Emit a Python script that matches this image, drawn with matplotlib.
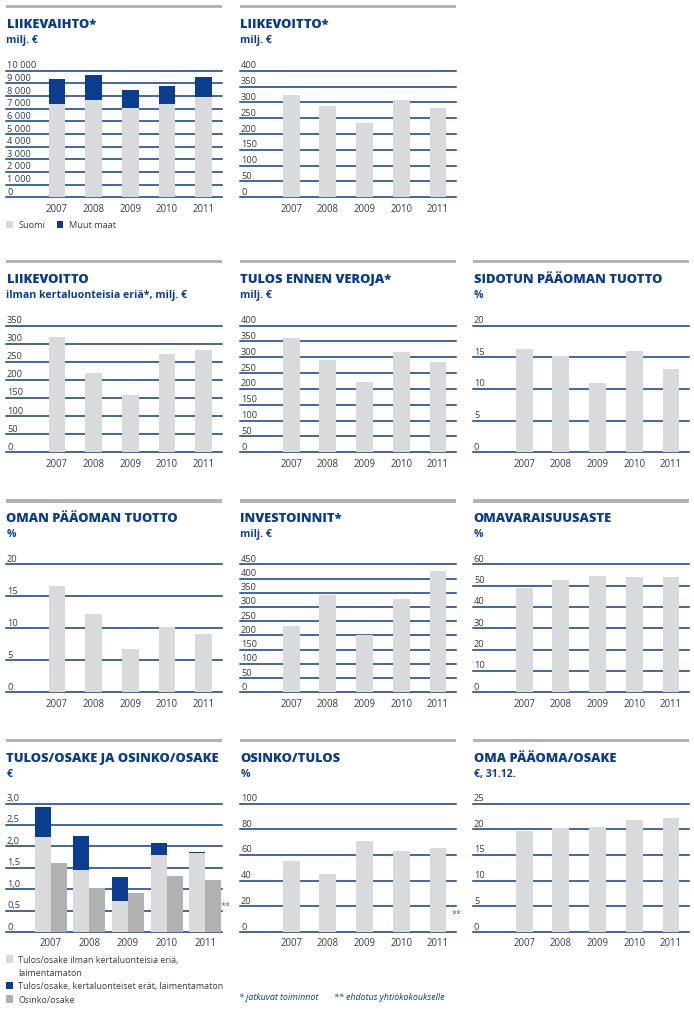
import matplotlib
matplotlib.use('Agg')
import matplotlib.pyplot as plt
from matplotlib.patches import Rectangle

# ---------------- data ----------------
years = ['2007', '2008', '2009', '2010', '2011']

liikevaihto_suomi = [7370, 7680, 7080, 7370, 7920]
liikevaihto_muut = [1970, 1980, 1390, 1420, 1580]
liikevaihto_ticks = [0, 1000, 2000, 3000, 4000, 5000, 6000, 7000, 8000, 9000, 10000]
liikevaihto_labels = ['0', '1 000', '2 000', '3 000', '4 000', '5 000', '6 000', '7 000', '8 000', '9 000', '10 000']

liikevoitto = [323, 288, 235, 307, 282]
liikevoitto_ticks = [0, 50, 100, 150, 200, 250, 300, 350, 400]

liikevoitto_ilman = [319, 219, 158, 272, 283]
liikevoitto_ilman_ticks = [0, 50, 100, 150, 200, 250, 300, 350]

tulos_ennen_veroja = [361, 292, 222, 317, 285]
tulos_ticks = [0, 50, 100, 150, 200, 250, 300, 350, 400]

sidotun_tuotto = [16.3, 15.2, 11.0, 16.0, 13.2]
sidotun_ticks = [0, 5, 10, 15, 20]

oman_tuotto = [16.6, 12.2, 6.8, 10.2, 9.1]
oman_ticks = [0, 5, 10, 15, 20]

investoinnit = [233, 342, 202, 328, 427]
investoinnit_ticks = [0, 50, 100, 150, 200, 250, 300, 350, 400, 450]

omavaraisuusaste = [48.9, 52.7, 54.5, 54.1, 54.1]
omavaraisuus_ticks = [0, 10, 20, 30, 40, 50, 60]

eps_ilman = [2.22, 1.45, 0.73, 1.80, 1.85]
eps_kertaluonteiset = [0.70, 0.80, 0.56, 0.28, 0.02]
osinko_osake = [1.62, 1.03, 0.92, 1.31, 1.22]
eps_ticks = [0, 0.5, 1.0, 1.5, 2.0, 2.5, 3.0]
eps_labels = ['0', '0,5', '1,0', '1,5', '2,0', '2,5', '3,0']

osinko_tulos = [55.0, 45.0, 70.6, 62.9, 65.2]
osinko_tulos_ticks = [0, 20, 40, 60, 80, 100]

oma_paaoma_osake = [19.6, 20.2, 20.4, 21.75, 22.1]
oma_paaoma_ticks = [0, 5, 10, 15, 20, 25]

legend1_labels = ['Suomi', 'Muut maat']
legend9_labels = ['Tulos/osake ilman kertaluonteisia eriä,\nlaimentamaton',
                  'Tulos/osake, kertaluonteiset erät, laimentamaton',
                  'Osinko/osake']
footnotes = ['* jatkuvat toiminnot', '** ehdotus yhtiökokoukselle']

# ---------------- style ----------------
W, H = 694, 1015
DPI = 100
NAVY = '#0b3d8e'
LIGHT = '#d9dadb'
MID = '#b1b1b1'
TOPBAR = '#b3b3b3'
TXT = '#3c3c3c'
FONT = 'Open Sans'
plt.rcParams['font.family'] = [FONT, 'DejaVu Sans']

fig = plt.figure(figsize=(W / DPI, H / DPI), dpi=DPI)
fig.patch.set_facecolor('white')


def fx(x):
    return x / W


def fy(y):
    return 1 - y / H


COLS = [(6, 221.5), (240, 456), (473, 689)]
ROWS = [dict(bar=6.7, title=28.3, sub=42.5, top=70.7, base=197.3),
        dict(bar=261.7, title=283.3, sub=297.7, top=325.5, base=452.3),
        dict(bar=501.0, title=521.7, sub=536.7, top=564.3, base=692.3),
        dict(bar=740.7, title=761.7, sub=776.7, top=803.5, base=932.0)]

X = list(range(5))
BW = 0.456


def panel(col, row, title, subtitle, ticks, labels=None, xlim=(-1.393, 4.49)):
    x0, x1 = COLS[col]
    r = ROWS[row]
    fig.add_artist(Rectangle((fx(x0), fy(r['bar'] + 1.7)), (x1 - x0) / W, 3.4 / H,
                             transform=fig.transFigure, facecolor=TOPBAR, lw=0))
    fig.text(fx(x0 + 0.5), fy(r['title']), title, fontsize=9.3, fontweight=800,
             color=NAVY, ha='left', va='baseline')
    fig.text(fx(x0 + 0.5), fy(r['sub']), subtitle, fontsize=7.6, fontweight='bold',
             color=NAVY, ha='left', va='baseline')
    ax = fig.add_axes([fx(x0), fy(r['base']), (x1 - x0) / W, (r['base'] - r['top']) / H])
    ax.patch.set_alpha(0)
    for s in ax.spines.values():
        s.set_visible(False)
    ax.set_xlim(*xlim)
    ax.set_ylim(0, ticks[-1])
    ax.set_yticks([])
    if labels is None:
        labels = [str(t) for t in ticks]
    for t, lab in zip(ticks, labels):
        ax.axhline(t, color=NAVY, lw=1.1, clip_on=False, zorder=1)
        ax.annotate(lab, xy=(0, t), xycoords=('axes fraction', 'data'), xytext=(1, 2.5),
                    textcoords='offset pixels', ha='left', va='baseline',
                    fontsize=6.7, color=TXT)
    ax.set_xticks(X)
    ax.set_xticklabels(years, fontsize=6.9, color=TXT)
    ax.tick_params(axis='x', length=0, pad=4.5)
    return ax


def simple(col, row, title, subtitle, values, ticks, labels=None):
    ax = panel(col, row, title, subtitle, ticks, labels)
    ax.bar(X, values, width=BW, color=LIGHT, zorder=2)
    return ax


# Row 1
ax1 = panel(0, 0, 'LIIKEVAIHTO*', 'milj. €', liikevaihto_ticks, liikevaihto_labels)
ax1.bar(X, liikevaihto_suomi, width=BW, color=LIGHT, zorder=2)
ax1.bar(X, liikevaihto_muut, width=BW, bottom=liikevaihto_suomi, color=NAVY, zorder=2)
# legend for panel 1
for (sx, tx), lab, c in zip([(6, 18.5), (56.7, 69)], legend1_labels, [LIGHT, NAVY]):
    fig.add_artist(Rectangle((fx(sx), fy(228.3)), 6.7 / W, 7 / H,
                             transform=fig.transFigure, facecolor=c, lw=0))
    fig.text(fx(tx), fy(227.8), lab, fontsize=6.6, color=TXT, ha='left', va='baseline')

simple(1, 0, 'LIIKEVOITTO*', 'milj. €', liikevoitto, liikevoitto_ticks)

# Row 2
simple(0, 1, 'LIIKEVOITTO', 'ilman kertaluonteisia eriä*, milj. €', liikevoitto_ilman,
       liikevoitto_ilman_ticks)
simple(1, 1, 'TULOS ENNEN VEROJA*', 'milj. €', tulos_ennen_veroja, tulos_ticks)
simple(2, 1, 'SIDOTUN PÄÄOMAN TUOTTO', '%', sidotun_tuotto, sidotun_ticks)

# Row 3
simple(0, 2, 'OMAN PÄÄOMAN TUOTTO', '%', oman_tuotto, oman_ticks)
simple(1, 2, 'INVESTOINNIT*', 'milj. €', investoinnit, investoinnit_ticks)
simple(2, 2, 'OMAVARAISUUSASTE', '%', omavaraisuusaste, omavaraisuus_ticks)

# Row 4
ax9 = panel(0, 3, 'TULOS/OSAKE JA OSINKO/OSAKE', '€', eps_ticks, eps_labels,
            xlim=(-1.161, 4.423))
GW = 0.416
xl = [x - GW / 2 for x in X]
xr = [x + GW / 2 for x in X]
ax9.bar(xl, eps_ilman, width=GW, color=LIGHT, zorder=2)
ax9.bar(xl, eps_kertaluonteiset, width=GW, bottom=eps_ilman, color=NAVY, zorder=2)
ax9.bar(xr, osinko_osake, width=GW, color=MID, zorder=2)
fig.text(fx(221), fy(908.5), '**', fontsize=6.5, color='#666666', ha='left', va='baseline')

legend_rows = [(962.7, legend9_labels[0], LIGHT),
               (989.3, legend9_labels[1], NAVY),
               (1002.7, legend9_labels[2], MID)]
for yb, lab, c in legend_rows:
    fig.add_artist(Rectangle((fx(6), fy(yb)), 6.7 / W, 7.5 / H,
                             transform=fig.transFigure, facecolor=c, lw=0))
    for i, line in enumerate(lab.split('\n')):
        fig.text(fx(18.3), fy(yb + 13 * i), line, fontsize=6.4, color=TXT,
                 ha='left', va='baseline')

simple(1, 3, 'OSINKO/TULOS', '%', osinko_tulos, osinko_tulos_ticks)
fig.text(fx(451.5), fy(917), '**', fontsize=6.5, color='#666666', ha='left', va='baseline')
simple(2, 3, 'OMA PÄÄOMA/OSAKE', '€, 31.12.', oma_paaoma_osake, oma_paaoma_ticks)

# footnotes
fig.text(fx(239.3), fy(1000.5), footnotes[0], fontsize=6.4, style='italic', color=NAVY,
         ha='left', va='baseline')
fig.text(fx(334), fy(1000.5), footnotes[1], fontsize=6.4, style='italic', color=NAVY,
         ha='left', va='baseline')

fig.savefig('out.png', dpi=DPI, facecolor='white')
